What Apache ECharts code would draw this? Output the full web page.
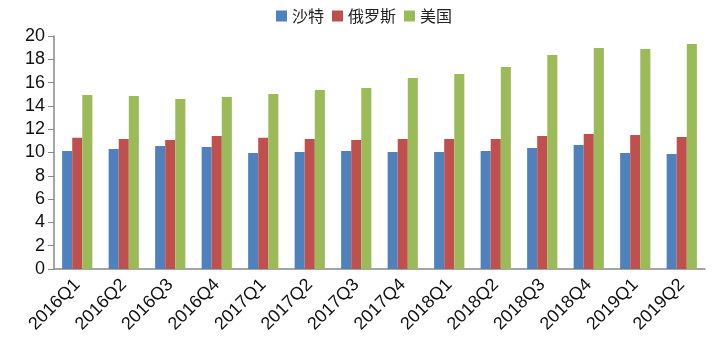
<!DOCTYPE html>
<html>
<head>
<meta charset="utf-8">
<script src="https://cdn.jsdelivr.net/npm/echarts@6/dist/echarts.min.js"></script>
<style>
  html, body { margin: 0; padding: 0; background: #fff; }
  #main { width: 717px; height: 351px; }
</style>
</head>
<body>
<div id="main"></div>
<script>
const quarters = ['2016Q1', '2016Q2', '2016Q3', '2016Q4', '2017Q1', '2017Q2', '2017Q3',
  '2017Q4', '2018Q1', '2018Q2', '2018Q3', '2018Q4', '2019Q1', '2019Q2'];
const saudi = [10.13, 10.3, 10.56, 10.47, 9.96, 10.04, 10.13, 10.04, 10.04, 10.13, 10.39, 10.64, 9.96, 9.87];
const russia = [11.27, 11.16, 11.07, 11.42, 11.27, 11.16, 11.07, 11.16, 11.16, 11.16, 11.42, 11.59, 11.5, 11.33];
const usa = [14.94, 14.85, 14.59, 14.76, 15.02, 15.36, 15.54, 16.39, 16.74, 17.34, 18.37, 18.97, 18.88, 19.31];

const chart = echarts.init(document.getElementById('main'));
const font = 'Liberation Sans, Arial, "Noto Sans CJK SC", sans-serif';

function bar(name, data, color) {
  return {
    name: name,
    type: 'bar',
    data: data,
    barGap: '0%',
    barCategoryGap: '35%',
    itemStyle: { color: color }
  };
}

chart.setOption({
  backgroundColor: '#ffffff',
  animation: false,
  textStyle: { fontFamily: font },
  legend: {
    top: 3,
    left: 271,
    itemWidth: 11,
    itemHeight: 11,
    itemGap: 8,
    icon: 'rect',
    textStyle: { fontSize: 16, color: '#222', fontFamily: '"Noto Sans CJK SC", sans-serif', padding: [0, 0, 0, 0] },
    data: ['沙特', '俄罗斯', '美国']
  },
  grid: { left: 54, right: 12, top: 36, bottom: 82 },
  xAxis: {
    type: 'category',
    data: quarters,
    axisLine: { lineStyle: { color: '#888', width: 1.5 } },
    axisTick: { length: 6, lineStyle: { color: '#888' } },
    axisLabel: { rotate: 45, fontSize: 18, color: '#111', margin: 13, interval: 0 }
  },
  yAxis: {
    type: 'value',
    min: 0,
    max: 20,
    interval: 2,
    splitLine: { show: false },
    axisLine: { show: true, lineStyle: { color: '#888', width: 1.5 } },
    axisTick: { show: true, length: 6, lineStyle: { color: '#888' } },
    axisLabel: { fontSize: 18, color: '#111', margin: 9 }
  },
  series: [
    bar('沙特', saudi, '#4F81BD'),
    bar('俄罗斯', russia, '#C0504D'),
    bar('美国', usa, '#9BBB59')
  ]
});
</script>
</body>
</html>
